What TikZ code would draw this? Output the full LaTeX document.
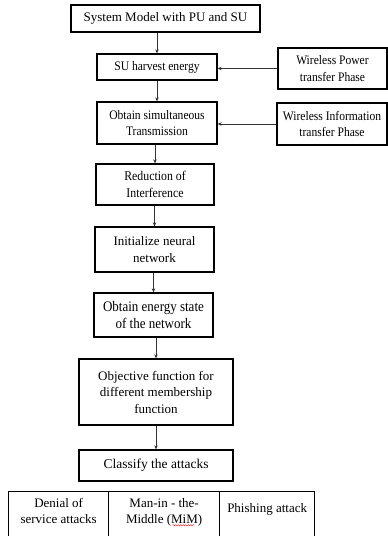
\documentclass[tikz,border=0pt]{standalone}
\usepackage{fontspec}
\setmainfont{Liberation Serif}
\newfontfamily\narrowserif[FakeStretch=0.89]{Liberation Serif}
\usepackage{tikz}
\usetikzlibrary{arrows.meta,positioning,decorations.pathmorphing}

\begin{document}
\begin{tikzpicture}[
 x=1pt, y=-1pt,
 box/.style={draw, line width=1.3pt, align=center, inner sep=0pt, font=\fontsize{13}{16.5}\selectfont},
 narrow/.style={font=\narrowserif\fontsize{#1}{16.5}\selectfont},
 cell/.style={draw, line width=1.3pt, anchor=north west, inner sep=0pt, minimum height=56pt},
 celltxt/.style={anchor=north, align=center, inner sep=0pt, font=\fontsize{13}{16.5}\selectfont},
 arr/.style={-{Stealth[length=4pt,width=3.5pt]}, line width=0.7pt, black!80},
]
 \clip (0,0) rectangle (388,536);
 \useasboundingbox (0,0) rectangle (388,536);
 %
 \node[box, minimum width=189pt, minimum height=27pt] (model) at (165.5,18.5) {System Model with PU and SU};
 \node[box, narrow=13, minimum width=120pt, minimum height=26pt] (harvest) at (157,67) {SU harvest energy};
 \node[box, narrow=13, minimum width=109pt, minimum height=41pt] (power) at (332.5,68.5) {Wireless Power\\transfer Phase};
 \node[box, narrow=13, minimum width=120pt, minimum height=42pt] (simul) at (157,123) {Obtain simultaneous\\Transmission};
 \node[box, narrow=13, minimum width=110pt, minimum height=42pt] (info) at (332,124) {Wireless Information\\transfer Phase};
 \node[box, narrow=13.3, minimum width=118pt, minimum height=41pt] (reduce) at (155,184.5) {Reduction of\\Interference};
 \node[box, minimum width=119pt, minimum height=45pt] (neural) at (154.5,249.5) {Initialize neural\\network};
 \node[box, narrow=14.6, minimum width=119pt, minimum height=44pt] (energy) at (153.5,315) {Obtain energy state\\of the network};
 \node[box, minimum width=154pt, minimum height=66pt] (objfn) at (156,392) {Objective function for\\different membership\\function};
 \node[box, font=\fontsize{13.5}{16.5}\selectfont, minimum width=154pt, minimum height=31pt] (classify) at (156,465.5) {Classify the attacks};
 %
 \node[cell, minimum width=100pt] (dos) at (8,491) {};
 \node[cell, minimum width=111pt] (mim) at (108,491) {};
 \node[cell, minimum width=95pt] (phish) at (219,491) {};
 \node[celltxt] (dostxt) at ([yshift=-7pt]dos.north) {Denial of\\service attacks};
 \node[celltxt] (mimtxt) at ([yshift=-7pt]mim.north) {Man-in - the-\\Middle (MiM)};
 \node[celltxt] (phishtxt) at ([yshift=-12pt]phish.north) {Phishing attack};
 \draw[red, line width=0.4pt, decorate, decoration={snake, amplitude=0.6pt, segment length=2.5pt}]
  ([xshift=-30pt,yshift=1.5pt]mimtxt.south east) -- ([xshift=-8pt,yshift=1.5pt]mimtxt.south east);
 %
 \draw[arr] (harvest |- model.south) -- (harvest.north);
 \draw[arr] (simul |- harvest.south) -- (simul.north);
 \draw[arr] (reduce |- simul.south) -- (reduce.north);
 \draw[arr] (neural |- reduce.south) -- (neural.north);
 \draw[arr] (energy |- neural.south) -- (energy.north);
 \draw[arr] (objfn |- energy.south) -- (objfn.north);
 \draw[arr] (classify |- objfn.south) -- (classify.north);
 %
 \draw[arr] (power.west) -- (power.west -| harvest.east);
 \draw[arr] (info.west) -- (info.west -| simul.east);
\end{tikzpicture}
\end{document}
